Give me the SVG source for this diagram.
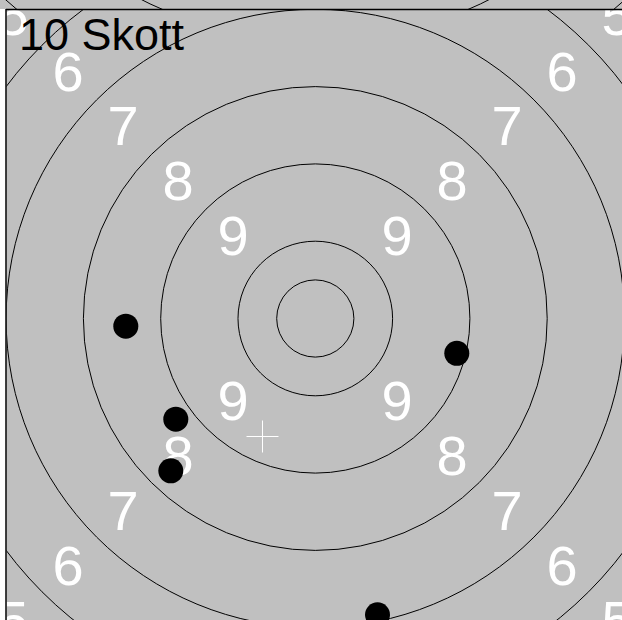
<svg xmlns="http://www.w3.org/2000/svg" width="622" height="620" viewBox="0 0 622 620">
<style>
.ring{fill:none;stroke:#000;stroke-width:1}
.num{font-family:"Liberation Sans",Arial,sans-serif;font-size:56px;fill:#fff;text-anchor:middle}
.title{font-family:"Liberation Sans",Arial,sans-serif;font-size:45px;fill:#000}
.shot{fill:#000}
</style>
<defs>
<clipPath id="topClip"><rect x="0" y="0" width="622" height="9"/></clipPath>
<clipPath id="mainClip"><rect x="6.5" y="9.5" width="616" height="611"/></clipPath>
</defs>
<rect x="0" y="0" width="622" height="620" fill="#fff"/>
<g id="previous-target" clip-path="url(#topClip)">
<rect x="0" y="0" width="622" height="9" fill="#c0c0c0"/>
<circle class="ring" cx="315.3" cy="-345.5" r="386.5"/>
<circle class="ring" cx="315.3" cy="-345.5" r="463.8"/>
</g>
<g id="target" clip-path="url(#mainClip)">
<rect x="6" y="9" width="616" height="611" fill="#c0c0c0"/>
<g id="rings">
<circle class="ring" cx="315.3" cy="318.5" r="38.6"/>
<circle class="ring" cx="315.3" cy="318.5" r="77.3"/>
<circle class="ring" cx="315.3" cy="318.5" r="154.6"/>
<circle class="ring" cx="315.3" cy="318.5" r="231.9"/>
<circle class="ring" cx="315.3" cy="318.5" r="309.2"/>
<circle class="ring" cx="315.3" cy="318.5" r="386.5"/>
</g>
<g id="labels">
<text class="num" x="233" y="255">9</text>
<text class="num" x="397" y="255">9</text>
<text class="num" x="233" y="420">9</text>
<text class="num" x="397" y="420">9</text>
<text class="num" x="178" y="200">8</text>
<text class="num" x="452" y="200">8</text>
<text class="num" x="178" y="475">8</text>
<text class="num" x="452" y="475">8</text>
<text class="num" x="123" y="145">7</text>
<text class="num" x="507" y="145">7</text>
<text class="num" x="123" y="530">7</text>
<text class="num" x="507" y="530">7</text>
<text class="num" x="68" y="91">6</text>
<text class="num" x="562" y="91">6</text>
<text class="num" x="68" y="585">6</text>
<text class="num" x="562" y="585">6</text>
<text class="num" x="13" y="35">5</text>
<text class="num" x="617" y="35">5</text>
<text class="num" x="13" y="640">5</text>
<text class="num" x="617" y="640">5</text>
</g>
<g id="center-mark" stroke="#fff" stroke-width="1">
<line x1="246.5" y1="436.5" x2="278.5" y2="436.5"/>
<line x1="262.5" y1="420.5" x2="262.5" y2="452.5"/>
</g>
<g id="shots">
<circle class="shot" cx="125.8" cy="326.2" r="12.5"/>
<circle class="shot" cx="456.8" cy="353.3" r="12.5"/>
<circle class="shot" cx="175.8" cy="419.2" r="12.5"/>
<circle class="shot" cx="170.8" cy="470.8" r="12.5"/>
<circle class="shot" cx="377.5" cy="614.8" r="12.5"/>
</g>
<text id="title" class="title" x="19" y="50">10 Skott</text>
</g>
<g id="frame" stroke="#000" stroke-width="1.5">
<line x1="6" y1="9.5" x2="622" y2="9.5"/>
<line x1="6" y1="9" x2="6" y2="620"/>
</g>
</svg>
